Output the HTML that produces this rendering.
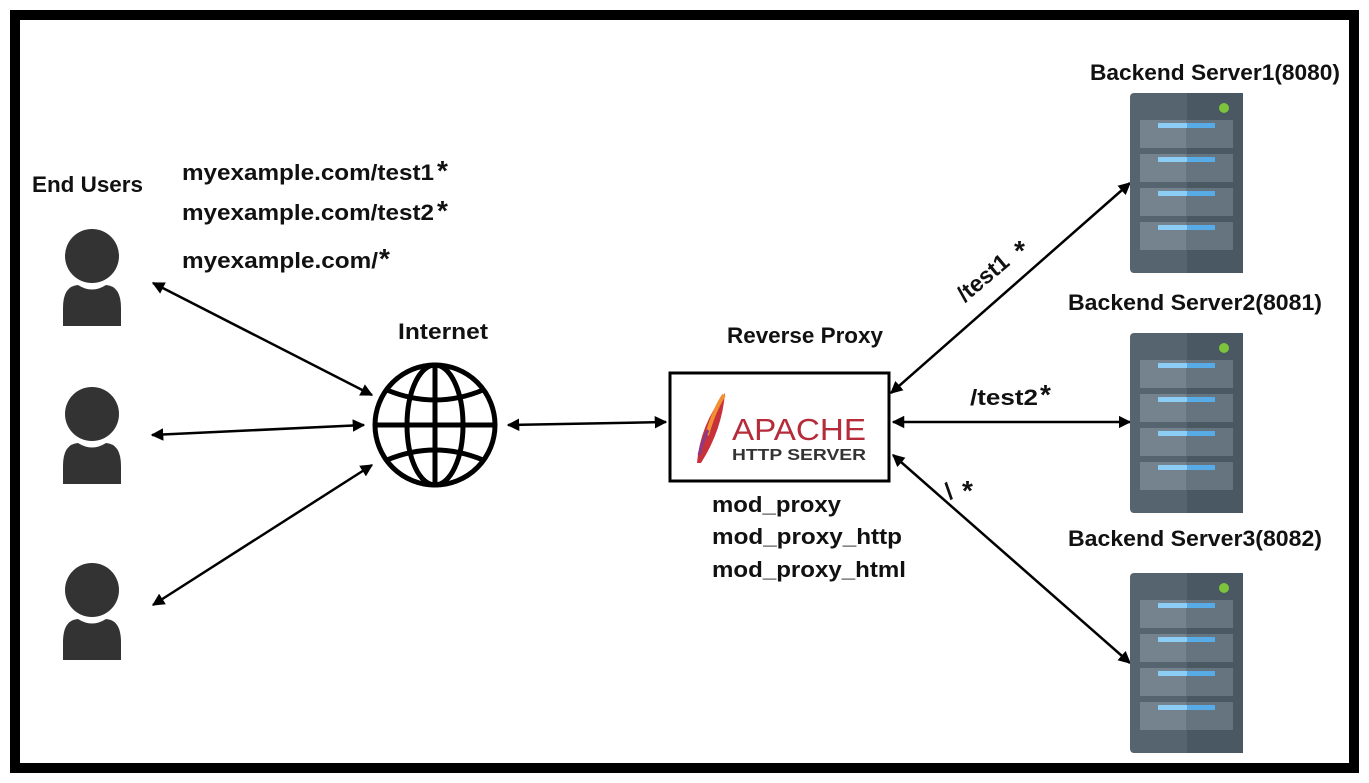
<!DOCTYPE html>
<html><head><style>
body{margin:0;background:#fff;}
svg{display:block;}
text{font-family:"Liberation Sans",Arial,sans-serif;font-weight:bold;fill:#111;}
</style></head><body>
<svg width="1369" height="783" viewBox="0 0 1369 783">
<defs>
<marker id="a" viewBox="0 0 10 10" refX="9" refY="5" markerWidth="5" markerHeight="5" orient="auto-start-reverse"><path d="M0,0 L10,5 L0,10 z" fill="#000"/></marker>
<g id="srv">
<rect x="0" y="0" width="113" height="180" rx="4" fill="#56646f"/>
<rect x="57" y="0" width="56" height="180" fill="#4a5863"/>
<g id="slot"><rect x="10" y="27" width="46" height="28" fill="#75838e"/><rect x="56" y="27" width="47" height="28" fill="#66747f"/><rect x="28" y="30" width="29" height="5" fill="#8ccdf5"/><rect x="57" y="30" width="28" height="5" fill="#57abe6"/></g>
<use href="#slot" y="34"/><use href="#slot" y="68"/><use href="#slot" y="102"/>
<circle cx="94" cy="15" r="5" fill="#7cc53a"/>
</g>
<g id="usr">
<circle cx="0" cy="0" r="27" fill="#333"/>
<path d="M-29,70 L-29,52 Q-29,30 -14,29 Q0,38 14,29 Q29,30 29,52 L29,70 Q29,70 26,70 L-26,70 Z" fill="#333"/>
</g>
</defs>
<rect x="15" y="15" width="1339" height="753" fill="#fff" stroke="#000" stroke-width="10"/>
<use href="#usr" x="92" y="256"/>
<use href="#usr" x="92" y="414"/>
<use href="#usr" x="92" y="590"/>
<g font-size="22">
<text x="32" y="192" textLength="111" lengthAdjust="spacingAndGlyphs">End Users</text>
<text x="182" y="180" textLength="252" lengthAdjust="spacingAndGlyphs">myexample.com/test1</text><text x="437" y="180" font-size="28">*</text>
<text x="182" y="220" textLength="252" lengthAdjust="spacingAndGlyphs">myexample.com/test2</text><text x="437" y="220" font-size="28">*</text>
<text x="182" y="268" textLength="196" lengthAdjust="spacingAndGlyphs">myexample.com/</text><text x="379" y="268" font-size="28">*</text>
<text x="398" y="339" textLength="90" lengthAdjust="spacingAndGlyphs">Internet</text>
<text x="727" y="343" textLength="156" lengthAdjust="spacingAndGlyphs">Reverse Proxy</text>
<text x="712" y="512" textLength="129" lengthAdjust="spacingAndGlyphs">mod_proxy</text>
<text x="712" y="544" textLength="190" lengthAdjust="spacingAndGlyphs">mod_proxy_http</text>
<text x="712" y="577" textLength="194" lengthAdjust="spacingAndGlyphs">mod_proxy_html</text>
<text x="970" y="405" textLength="68" lengthAdjust="spacingAndGlyphs">/test2</text><text x="1040" y="404" font-size="28">*</text>
<text x="1090" y="80" textLength="250" lengthAdjust="spacingAndGlyphs">Backend Server1(8080)</text>
<text x="1068" y="310" textLength="254" lengthAdjust="spacingAndGlyphs">Backend Server2(8081)</text>
<text x="1068" y="546" textLength="254" lengthAdjust="spacingAndGlyphs">Backend Server3(8082)</text>
</g>
<g fill="none" stroke="#000" stroke-width="5">
<circle cx="435" cy="425" r="60"/>
<ellipse cx="435" cy="425" rx="28" ry="60"/>
<line x1="435" y1="365" x2="435" y2="485"/>
<line x1="375" y1="425" x2="495" y2="425"/>
<path d="M387,390 Q435,410 483,390"/>
<path d="M387,460 Q435,440 483,460"/>
</g>
<g stroke="#000" stroke-width="2.5" marker-start="url(#a)" marker-end="url(#a)">
<line x1="153" y1="283" x2="372" y2="395"/>
<line x1="152" y1="435" x2="364" y2="425"/>
<line x1="153" y1="605" x2="372" y2="465"/>
<line x1="508" y1="425" x2="666" y2="422"/>
<line x1="891" y1="393" x2="1130" y2="183"/>
<line x1="893" y1="422" x2="1130" y2="422"/>
<line x1="893" y1="455" x2="1130" y2="663"/>
</g>
<rect x="670" y="373" width="219" height="108" fill="#fff" stroke="#000" stroke-width="3"/>
<path d="M697,463 Q700,425 725,393 Q722,430 701,463 Z" fill="#c8303a"/>
<path d="M707,435 Q714,410 724,395" stroke="#f09030" stroke-width="4" fill="none"/>
<path d="M699,455 Q703,440 708,430" stroke="#8a3a8a" stroke-width="3" fill="none"/>
<text x="732" y="440" font-size="31" textLength="134" lengthAdjust="spacingAndGlyphs" style="font-weight:normal;fill:#b52b3a">APACHE</text>
<text x="732" y="460" font-size="16" textLength="134" lengthAdjust="spacingAndGlyphs" style="fill:#333">HTTP SERVER</text>
<text x="965" y="303" font-size="23" textLength="60" lengthAdjust="spacingAndGlyphs" transform="rotate(-40 965 303)">/test1</text><text x="1014" y="260" font-size="28">*</text>
<text x="950" y="500" font-size="24" transform="rotate(-30 950 500)">/</text><text x="962" y="500" font-size="28">*</text>
<use href="#srv" x="1130" y="93"/>
<use href="#srv" x="1130" y="333"/>
<use href="#srv" x="1130" y="573"/>
</svg>
</body></html>
